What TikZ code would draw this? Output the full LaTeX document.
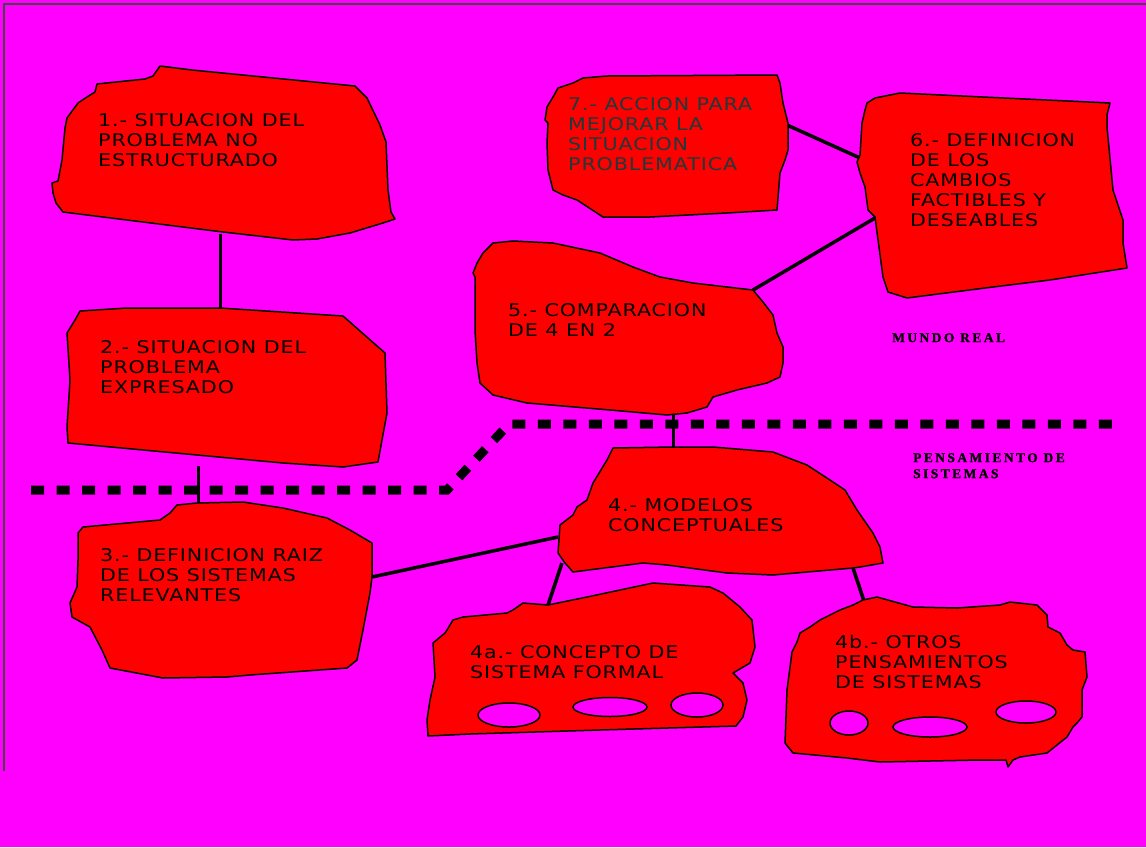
\documentclass[tikz,border=0pt]{standalone}
\usepackage{fontspec}
\newfontfamily\boxfont{DejaVu Sans}[FakeStretch=1.18, LetterSpace=5]
\newfontfamily\zonefont{Liberation Serif}[LetterSpace=18, FakeBold=1.2]
\definecolor{bg}{RGB}{255,0,255}
\definecolor{blobred}{RGB}{255,0,0}
\definecolor{slate}{RGB}{30,58,58}
\definecolor{framegray}{RGB}{70,70,70}

\begin{document}
\begin{tikzpicture}[x=1pt,y=-1pt,
  blob/.style={draw=black, fill=blobred, line width=1.5pt, line join=round},
  hole/.style={draw=black, fill=bg, line width=1.5pt},
  link/.style={draw=black, line width=3pt},
  boxtext/.style={anchor=north west, inner sep=0pt, align=left,
    font=\boxfont\fontsize{17.5}{20}\selectfont},
  zonetext/.style={anchor=north west, inner sep=0pt, align=left,
    font=\zonefont\bfseries\fontsize{13.5}{16}\selectfont},
  divider/.style={draw=black, line width=9pt, dash pattern=on 13pt off 12.5pt}]

% canvas
\useasboundingbox (0,0) rectangle (1146,847);
\fill[bg] (0,0) rectangle (1146,847);
\draw[framegray, line width=1.5pt] (3,4) -- (1146,4);
\draw[framegray, line width=1.5pt] (4,4) -- (4,771);

% connector end points on the blob outlines
\coordinate (c12a) at (220,234);  \coordinate (c12b) at (220,308);
\coordinate (c23a) at (198,466);  \coordinate (c23b) at (198,502);
\coordinate (c34a) at (372,577);  \coordinate (c34b) at (558,537);
\coordinate (c54a) at (673,414);  \coordinate (c54b) at (673,447);
\coordinate (c4aa) at (562,563);  \coordinate (c4ab) at (548,605);
\coordinate (c4ba) at (853,568);  \coordinate (c4bb) at (864,601);
\coordinate (c56a) at (753,290);  \coordinate (c56b) at (875,218);
\coordinate (c76a) at (787,125);  \coordinate (c76b) at (860,158);

% connectors
\draw[link] (c12a) -- (c12b);
\draw[link] (c23a) -- (c23b);
\draw[link, line width=3.5pt] (c34a) -- (c34b);
\draw[link] (c54a) -- (c54b);
\draw[link, line width=3.5pt] (c4aa) -- (c4ab);
\draw[link, line width=3.5pt] (c4ba) -- (c4bb);
\draw[link, line width=3.5pt] (c56a) -- (c56b);
\draw[link, line width=3.5pt] (c76a) -- (c76b);

% 1
\draw[blob] (97,84) -- (145,79) -- (153,76) -- (160,66) -- (192,70) -- (355,86)
  -- (367,98) -- (380,125) -- (386,142) -- (388,190) -- (391,212) -- (395,219)
  -- (383,223) -- (350,233) -- (317,239) -- (293,240) -- (223,232) -- (63,212)
  -- (56,203) -- (53,193) -- (52,183) -- (58,181) -- (62,160) -- (65,128)
  -- (67,118) -- (78,103) -- (87,97) -- (95,92) -- cycle;
% 2
\draw[blob] (80,311) -- (127,308) -- (220,308) -- (343,316) -- (385,353)
  -- (387,413) -- (382,440) -- (378,462) -- (343,467) -- (283,463) -- (68,443)
  -- (67,427) -- (70,380) -- (67,333) -- (75,320) -- cycle;
% 3
\draw[blob] (177,505) -- (197,503) -- (243,502) -- (283,508) -- (327,518)
  -- (350,530) -- (372,543) -- (372,577) -- (370,593) -- (363,630) -- (357,660)
  -- (347,668) -- (250,675) -- (227,677) -- (163,678) -- (110,668) -- (102,650)
  -- (90,627) -- (72,617) -- (70,603) -- (77,587) -- (78,560) -- (78,533)
  -- (83,527) -- (160,520) -- (170,513) -- cycle;
% 4
\draw[blob] (613,448) -- (673,447) -- (713,447) -- (773,452) -- (807,465)
  -- (833,482) -- (845,490) -- (857,510) -- (873,533) -- (880,547) -- (883,563)
  -- (860,567) -- (853,568) -- (773,575) -- (727,573) -- (667,565) -- (643,563)
  -- (573,572) -- (565,563) -- (558,553) -- (560,525) -- (573,515) -- (577,507)
  -- (587,500) -- (593,483) -- (607,460) -- cycle;
% 5
\draw[blob] (493,243) -- (513,241) -- (553,243) -- (600,253) -- (633,267)
  -- (660,277) -- (693,283) -- (753,290) -- (763,302) -- (773,315) -- (777,333)
  -- (783,347) -- (783,363) -- (780,377) -- (767,383) -- (737,390) -- (713,397)
  -- (707,407) -- (687,413) -- (667,415) -- (610,410) -- (527,403) -- (493,395)
  -- (480,383) -- (477,363) -- (475,330) -- (475,277) -- (473,273) -- (477,263)
  -- (483,253) -- cycle;
% 6
\draw[blob] (867,103) -- (875,98) -- (900,93) -- (983,97) -- (1110,103)
  -- (1107,115) -- (1107,127) -- (1113,190) -- (1123,220) -- (1123,243)
  -- (1127,268) -- (1050,280) -- (993,287) -- (907,298) -- (888,292) -- (883,277)
  -- (878,240) -- (875,217) -- (868,210) -- (865,187) -- (860,173) -- (857,162)
  -- (860,155) -- (862,123) -- (865,110) -- cycle;
% 7
\draw[blob] (583,78) -- (607,76) -- (777,75) -- (780,83) -- (783,103) -- (788,123)
  -- (788,150) -- (785,160) -- (780,173) -- (777,210) -- (727,213) -- (650,217)
  -- (603,217) -- (577,200) -- (563,195) -- (553,190) -- (548,170) -- (547,143)
  -- (548,123) -- (545,120) -- (547,107) -- (553,97) -- (558,88) -- (573,83) -- cycle;
% 4a
\draw[blob] (523,603) -- (548,605) -- (587,597) -- (653,583) -- (710,587)
  -- (723,593) -- (740,607) -- (752,620) -- (755,647) -- (750,663) -- (733,673)
  -- (743,683) -- (747,700) -- (743,717) -- (736,726) -- (600,730) -- (470,734)
  -- (428,736) -- (427,720) -- (430,700) -- (435,677) -- (433,643) -- (445,633)
  -- (447,630) -- (453,620) -- (463,617) -- (507,613) -- (513,610) -- cycle;
\draw[hole] (509,715) ellipse [x radius=31, y radius=12];
\draw[hole] (610,707) ellipse [x radius=37, y radius=9.5];
\draw[hole] (697,705) ellipse [x radius=26, y radius=12];
% 4b
\draw[blob] (863,600) -- (877,597) -- (913,607) -- (957,608) -- (1000,605)
  -- (1010,602) -- (1037,605) -- (1047,615) -- (1048,627) -- (1060,633)
  -- (1067,645) -- (1073,650) -- (1085,652) -- (1087,677) -- (1082,690)
  -- (1082,717) -- (1077,723) -- (1073,727) -- (1067,737) -- (1047,753)
  -- (1020,757) -- (1013,760) -- (1008,767) -- (1006,760) -- (980,760)
  -- (880,762) -- (847,758) -- (793,753) -- (785,743) -- (787,690) -- (792,652)
  -- (797,642) -- (800,633) -- (810,627) -- (820,620) -- (840,610) -- (853,605) -- cycle;
\draw[hole] (849,723) ellipse [x radius=19, y radius=12];
\draw[hole] (930,727) ellipse [x radius=37, y radius=10];
\draw[hole] (1026,712) ellipse [x radius=30, y radius=11];

% boundary between the real world and systems thinking
\draw[divider] (31,490) -- (447,490) -- (509,424) -- (1112,424);

% texts
\node[boxtext] (t1) at (98,113) {1.- SITUACION DEL\\PROBLEMA NO\\ESTRUCTURADO};
\node[boxtext] (t2) at (100,340) {2.- SITUACION DEL\\PROBLEMA\\EXPRESADO};
\node[boxtext] (t3) at (100,548) {3.- DEFINICION RAIZ\\DE LOS SISTEMAS\\RELEVANTES};
\node[boxtext] (t4) at (608,498) {4.- MODELOS\\CONCEPTUALES};
\node[boxtext] (t4a) at (470,645) {4a.- CONCEPTO DE\\SISTEMA FORMAL};
\node[boxtext] (t4b) at (835,635) {4b.- OTROS\\PENSAMIENTOS\\DE SISTEMAS};
\node[boxtext] (t5) at (508,303) {5.- COMPARACION\\DE 4 EN 2};
\node[boxtext] (t6) at (910,133) {6.- DEFINICION\\DE LOS\\CAMBIOS\\FACTIBLES Y\\DESEABLES};
\node[boxtext, text=slate] (t7) at (568,97) {7.- ACCION PARA\\MEJORAR LA\\SITUACION\\PROBLEMATICA};

\node[zonetext] (real) at (892,333) {MUNDO REAL};
\node[zonetext] (sys) at (913,453) {PENSAMIENTO DE\\SISTEMAS};
\end{tikzpicture}
\end{document}
